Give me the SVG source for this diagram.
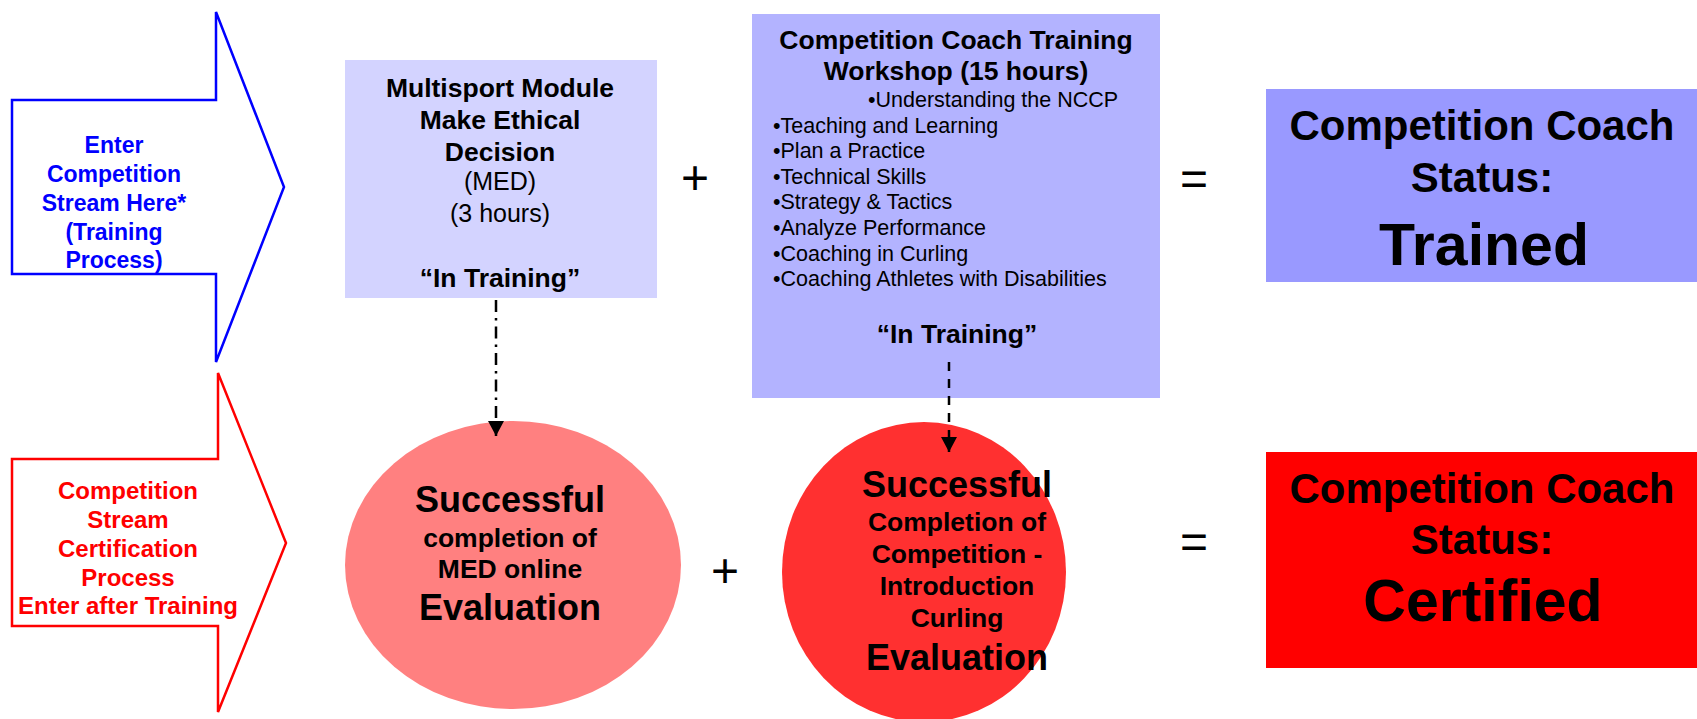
<svg xmlns="http://www.w3.org/2000/svg" width="1697" height="719" viewBox="0 0 1697 719">
<defs>
<style>
text{font-family:"Liberation Sans",Arial,sans-serif;text-anchor:middle;fill:#000}
.arrowtxt{font-weight:bold;font-size:23px}
.arrowtxt2{font-weight:bold;font-size:24px}
.ttl{font-weight:bold;font-size:26.5px}
.reg{font-size:25px}
.bul{font-size:21.5px;text-anchor:start}
.big{font-weight:bold;font-size:36px}
.mid{font-weight:bold;font-size:26.5px}
.st1{font-weight:bold;font-size:42px}
.st2{font-weight:bold;font-size:59px}
.op{font-size:48px}
.conn{fill:none;stroke:#000;stroke-width:2.5}
</style>
<marker id="ah" markerUnits="userSpaceOnUse" markerWidth="16" markerHeight="16" refX="15" refY="8" orient="auto" viewBox="0 0 16 16">
<path d="M0,0 L15,8 L0,16 Z" fill="#000"/>
</marker>
</defs>
<rect width="1697" height="719" fill="#fff"/>

<g id="arrow-training">
<polygon points="12,100 216,100 216,12 284,187 216,362 216,274 12,274" fill="#fff" stroke="#0000ff" stroke-width="2.5"/>
<text class="arrowtxt" style="fill:#0000ff"><tspan x="114" y="153">Enter</tspan><tspan x="114" y="182">Competition</tspan><tspan x="114" y="211">Stream Here*</tspan><tspan x="114" y="240">(Training</tspan><tspan x="114" y="268">Process)</tspan></text>
</g>

<g id="arrow-certification">
<polygon points="12,459 218,459 218,373 286,543 218,712 218,626 12,626" fill="#fff" stroke="#ff0000" stroke-width="2.5"/>
<text class="arrowtxt2" style="fill:#ff0000"><tspan x="128" y="499">Competition</tspan><tspan x="128" y="528">Stream</tspan><tspan x="128" y="557">Certification</tspan><tspan x="128" y="586">Process</tspan><tspan x="128" y="614">Enter after Training</tspan></text>
</g>

<g id="med-module">
<rect x="345" y="60" width="312" height="238" fill="#d3d3ff"/>
<text class="ttl"><tspan x="500" y="97">Multisport Module</tspan><tspan x="500" y="129">Make Ethical</tspan><tspan x="500" y="161">Decision</tspan></text>
<text class="reg"><tspan x="500" y="190">(MED)</tspan><tspan x="500" y="222">(3 hours)</tspan></text>
<text class="ttl" x="500" y="287">“In Training”</text>
</g>

<g id="plus-1"><text class="op" x="695" y="194">+</text></g>

<g id="workshop">
<rect x="752" y="14" width="408" height="384" fill="#b3b3ff"/>
<text class="ttl"><tspan x="956" y="49">Competition Coach Training</tspan><tspan x="956" y="80">Workshop (15 hours)</tspan></text>
<text class="bul"><tspan x="868" y="107">•Understanding the NCCP</tspan><tspan x="773" y="133">•Teaching and Learning</tspan><tspan x="773" y="158">•Plan a Practice</tspan><tspan x="773" y="184">•Technical Skills</tspan><tspan x="773" y="209">•Strategy &amp; Tactics</tspan><tspan x="773" y="235">•Analyze Performance</tspan><tspan x="773" y="261">•Coaching in Curling</tspan><tspan x="773" y="286">•Coaching Athletes with Disabilities</tspan></text>
<text class="ttl" x="957" y="343">“In Training”</text>
</g>

<g id="equals-1"><text class="op" x="1194" y="195">=</text></g>

<g id="status-trained">
<rect x="1266" y="89" width="431" height="193" fill="#9999ff"/>
<text class="st1"><tspan x="1482" y="140">Competition Coach</tspan><tspan x="1482" y="192">Status:</tspan></text>
<text class="st2" x="1484" y="265">Trained</text>
</g>

<g id="eval-med">
<ellipse cx="513" cy="565" rx="168" ry="144" fill="#ff8080"/>
<text class="big" x="510" y="512">Successful</text>
<text class="mid"><tspan x="510" y="547">completion of</tspan><tspan x="510" y="578">MED online</tspan></text>
<text class="big" x="510" y="620">Evaluation</text>
</g>

<g id="plus-2"><text class="op" x="725" y="587">+</text></g>

<g id="eval-curling">
<ellipse cx="924" cy="572" rx="142" ry="150" fill="#ff3030"/>
<text class="big" x="957" y="497">Successful</text>
<text class="mid"><tspan x="957" y="531">Completion of</tspan><tspan x="957" y="563">Competition -</tspan><tspan x="957" y="595">Introduction</tspan><tspan x="957" y="627">Curling</tspan></text>
<text class="big" x="957" y="670">Evaluation</text>
</g>

<g id="equals-2"><text class="op" x="1194" y="558">=</text></g>

<g id="status-certified">
<rect x="1266" y="452" width="431" height="216" fill="#ff0000"/>
<text class="st1"><tspan x="1482" y="503">Competition Coach</tspan><tspan x="1482" y="554">Status:</tspan></text>
<text class="st2" x="1483" y="621">Certified</text>
</g>

<g id="connectors">
<path class="conn" d="M496,300 L496,436" stroke-dasharray="12 6 2.5 6" marker-end="url(#ah)"/>
<path class="conn" d="M949,362 L949,452" stroke-dasharray="9 8" marker-end="url(#ah)"/>
</g>
</svg>
